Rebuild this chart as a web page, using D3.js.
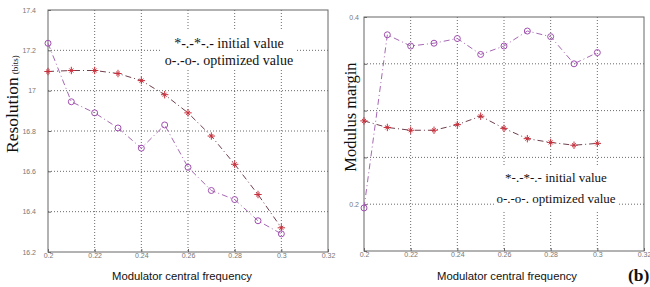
<!DOCTYPE html>
<html>
<head>
<meta charset="utf-8">
<script src="https://cdn.jsdelivr.net/npm/d3@7"></script>
<style>
body{margin:0;background:#fff}
svg{display:block}
.tick-lab{font-family:Arial,"Liberation Sans",sans-serif;font-size:7px;fill:#777}
</style>
</head>
<body>
<div id="chart"></div>
<script>
'use strict'
// frequencies (x) shared by both panels
const freq=[0.20,0.21,0.22,0.23,0.24,0.25,0.26,0.27,0.28,0.29,0.30]
const resInitial=[17.095,17.10,17.10,17.085,17.05,16.98,16.89,16.775,16.635,16.485,16.32]
const resOptimized=[17.235,16.945,16.89,16.815,16.715,16.83,16.62,16.505,16.46,16.355,16.29]
const modInitial=[0.289,0.282,0.279,0.279,0.285,0.294,0.281,0.270,0.266,0.263,0.265]
const modOptimized=[0.196,0.381,0.369,0.372,0.377,0.360,0.369,0.385,0.379,0.350,0.362]
const xTicks=[0.20,0.22,0.24,0.26,0.28,0.30,0.32]
const xTickLabels=["0.2","0.22","0.24","0.26","0.28","0.3","0.32"]
const resTicks=[16.2,16.4,16.6,16.8,17.0,17.2,17.4]
const resTickLabels=["16.2","16.4","16.6","16.8","17","17.2","17.4"]
const modTicks=[0.15,0.20,0.25,0.30,0.35,0.40]
const modTickLabels=["","0.2","","","","0.4"]
const legendLines=["*-.-*-.- initial value","o-.-o-. optimized value"]
const xTitle="Modulator central frequency"

const width=650,height=287
const initColor="#6e3f4c",initMark="#c8303c"
const optColor="#a668b4",optMark="#a04fb0"

let svg=d3.select("#chart").append("svg").attr("width",width).attr("height",height)

function panel(o){
  let x=d3.scaleLinear().domain([0.2,0.32]).range([o.x0,o.x1])
  let y=d3.scaleLinear().domain(o.ydom).range([o.y1,o.y0])
  let g=svg.append("g")
  // grid
  g.selectAll(".gx").data(xTicks.slice(1,-1)).enter().append("line")
    .attr("x1",d=>x(d)).attr("x2",d=>x(d)).attr("y1",o.y0).attr("y2",o.y1)
    .attr("stroke","#444").attr("stroke-width",0.8).attr("stroke-dasharray","1,2")
  g.selectAll(".gy").data(o.yticks.slice(1,-1)).enter().append("line")
    .attr("x1",o.x0).attr("x2",o.x1).attr("y1",d=>y(d)).attr("y2",d=>y(d))
    .attr("stroke","#444").attr("stroke-width",0.8).attr("stroke-dasharray","1,2")
  // legend box (drawn under the curves, above grid)
  g.append("rect").attr("x",o.leg.x).attr("y",o.leg.y).attr("width",o.leg.w).attr("height",o.leg.h).attr("fill","#fff")
  g.selectAll(".lg").data(legendLines).enter().append("text")
    .attr("x",o.leg.cx).attr("y",(d,i)=>o.leg.b0+i*o.leg.dy)
    .attr("text-anchor","middle").style("font-family","'Liberation Serif','Times New Roman',serif")
    .style("font-size",o.leg.fs+"px").attr("fill","#111").text(d=>d)
  // frame
  g.append("rect").attr("x",o.x0).attr("y",o.y0).attr("width",o.x1-o.x0).attr("height",o.y1-o.y0)
    .attr("fill","none").attr("stroke","#666").attr("stroke-width",1)
  // axes
  let xa=d3.axisBottom(x).tickValues(xTicks).tickFormat((d,i)=>xTickLabels[i]).tickSizeInner(-3).tickSizeOuter(0).tickPadding(2)
  let ya=d3.axisLeft(y).tickValues(o.yticks).tickFormat((d,i)=>o.ylabels[i]).tickSizeInner(-3).tickSizeOuter(0).tickPadding(o.ypad)
  let gx=g.append("g").attr("transform","translate(0,"+o.y1+")").call(xa)
  let gy=g.append("g").attr("transform","translate("+o.x0+",0)").call(ya)
  ;[gx,gy].forEach(a=>{a.select(".domain").remove()
    a.selectAll("line").attr("stroke","#666")
    a.selectAll("text").attr("class","tick-lab")})
  gx.selectAll("text").attr("dy","0.55em")
  // series
  let line=d3.line().x((d,i)=>x(freq[i])).y(d=>y(d))
  g.append("path").datum(o.init).attr("d",line).attr("fill","none").attr("stroke",initColor)
    .attr("stroke-width",1).attr("stroke-dasharray","6,3,1,3")
  g.append("path").datum(o.opt).attr("d",line).attr("fill","none").attr("stroke",optColor)
    .attr("stroke-width",1).attr("stroke-dasharray","6,3,1,3")
  ;[d3.symbolPlus,d3.symbolTimes].forEach((s,k)=>{
    g.selectAll(".st"+k).data(o.init).enter().append("path")
      .attr("d",d3.symbol(s,k?12:20))
      .attr("transform",(d,i)=>"translate("+x(freq[i])+","+y(d)+")")
      .attr("fill","none").attr("stroke",initMark).attr("stroke-width",1)})
  g.selectAll(".oc").data(o.opt).enter().append("circle")
    .attr("cx",(d,i)=>x(freq[i])).attr("cy",d=>y(d)).attr("r",3)
    .attr("fill","none").attr("stroke",optMark).attr("stroke-width",1)
  // x title
  g.append("text").attr("x",(o.x0+o.x1)/2+o.xtdx).attr("y",280).attr("text-anchor","middle")
    .style("font-family","Arial,'Liberation Sans',sans-serif").style("font-size","11.3px").attr("fill","#111").text(xTitle)
}

panel({x0:48,x1:328,y0:10,y1:252,ydom:[16.2,17.4],yticks:resTicks,ylabels:resTickLabels,ypad:12,
  init:resInitial,opt:resOptimized,xtdx:-6,
  leg:{x:160,y:31,w:135,h:39,cx:229,b0:48,dy:17,fs:14}})
panel({x0:364,x1:644,y0:17,y1:251,ydom:[0.15,0.40],yticks:modTicks,ylabels:modTickLabels,ypad:5,
  init:modInitial,opt:modOptimized,xtdx:3,
  leg:{x:494,y:166,w:125,h:45,cx:556,b0:182,dy:21,fs:13}})

// y titles
let t1=svg.append("text").attr("transform","translate(18,153) rotate(-90)")
  .style("font-family","'Liberation Serif','Times New Roman',serif").attr("fill","#111")
t1.append("tspan").style("font-size","17.5px").text("Resolution")
t1.append("tspan").style("font-size","9px").attr("dx",3).text("(bits)")
svg.append("text").attr("transform","translate(356,117) rotate(-90)").attr("text-anchor","middle")
  .style("font-family","'Liberation Serif','Times New Roman',serif").style("font-size","16.5px").attr("fill","#111")
  .text("Modulus margin")
svg.append("text").attr("x",628).attr("y",281)
  .style("font-family","'Liberation Serif','Times New Roman',serif").style("font-size","17.5px").style("font-weight","bold")
  .attr("fill","#111").text("(b)")
</script>
</body>
</html>
